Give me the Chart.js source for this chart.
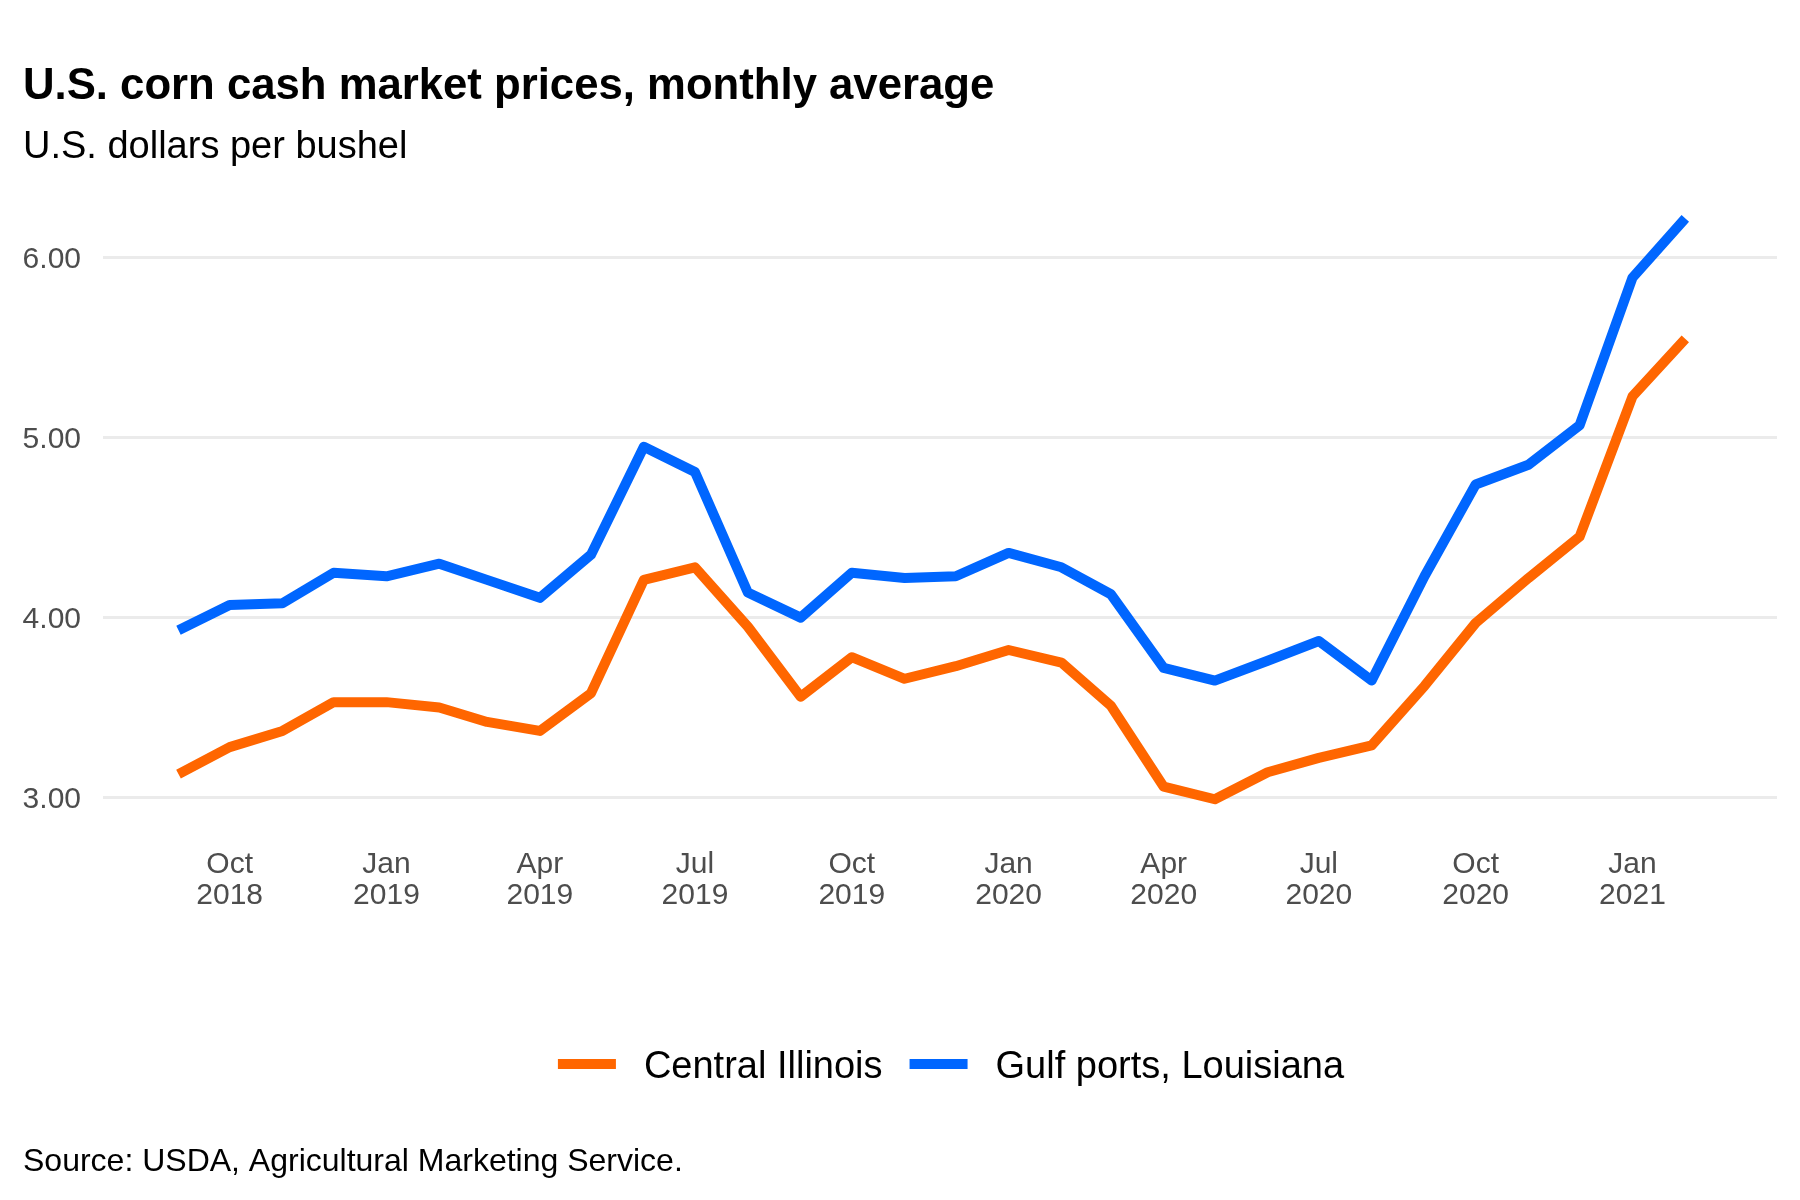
<!DOCTYPE html>
<html>
<head>
<meta charset="utf-8">
<script src="https://cdn.jsdelivr.net/npm/chart.js@4.4.1/dist/chart.umd.min.js"></script>
<style>
  html, body { margin: 0; padding: 0; background: #ffffff; }
  #wrap { width: 1800px; height: 1200px; position: relative; }
  canvas { display: block; }
</style>
</head>
<body>
<div id="wrap"><canvas id="chart" width="1800" height="1200"></canvas></div>
<script>
// ---- data ----
const months = [
  '2018-09','2018-10','2018-11','2018-12',
  '2019-01','2019-02','2019-03','2019-04','2019-05','2019-06','2019-07','2019-08','2019-09','2019-10','2019-11','2019-12',
  '2020-01','2020-02','2020-03','2020-04','2020-05','2020-06','2020-07','2020-08','2020-09','2020-10','2020-11','2020-12',
  '2021-01','2021-02'
];
const centralIllinois = [
  3.13, 3.28, 3.37, 3.53,
  3.53, 3.50, 3.42, 3.37, 3.58, 4.21, 4.28, 3.95, 3.56, 3.78, 3.66, 3.73,
  3.82, 3.75, 3.51, 3.06, 2.99, 3.14, 3.22, 3.29, 3.62, 3.97, 4.22, 4.45,
  5.23, 5.55
];
const gulfPorts = [
  3.93, 4.07, 4.08, 4.25,
  4.23, 4.30, 4.21, 4.11, 4.35, 4.95, 4.81, 4.14, 4.00, 4.25, 4.22, 4.23,
  4.36, 4.28, 4.13, 3.72, 3.65, 3.76, 3.87, 3.65, 4.23, 4.74, 4.85, 5.07,
  5.89, 6.22
];
const seriesNames = ['Central Illinois', 'Gulf ports, Louisiana'];
const seriesColors = ['#FF6600', '#0066FF'];
const xTickMonths = ['2018-10','2019-01','2019-04','2019-07','2019-10','2020-01','2020-04','2020-07','2020-10','2021-01'];
const monthNames = ['Jan','Feb','Mar','Apr','May','Jun','Jul','Aug','Sep','Oct','Nov','Dec'];
const yTicks = [3, 4, 5, 6];
const titleText = 'U.S. corn cash market prices, monthly average';
const subtitleText = 'U.S. dollars per bushel';
const sourceText = 'Source: USDA, Agricultural Marketing Service.';

const FONT = '"Liberation Sans", Arial, Helvetica, sans-serif';
const DAY = 86400000;
const ORIGIN = Date.UTC(2018, 8, 1);

// month string -> days since 2018-09-01 (time position on the linear axis)
function monthToDay(m) {
  const [yr, mo] = m.split('-').map(Number);
  return Math.round((Date.UTC(yr, mo - 1, 1) - ORIGIN) / DAY);
}
function dayToLabel(d) {
  const dt = new Date(ORIGIN + d * DAY);
  return [monthNames[dt.getUTCMonth()], String(dt.getUTCFullYear())];
}
function toPoints(vals) {
  return vals.map((v, i) => ({ x: monthToDay(months[i]), y: v }));
}

const textPlugin = {
  id: 'texts',
  beforeDraw(chart) {
    const ctx = chart.ctx;
    ctx.save();
    ctx.fillStyle = '#ffffff';
    ctx.fillRect(0, 0, chart.width, chart.height);
    ctx.restore();
  },
  afterDraw(chart) {
    const ctx = chart.ctx;
    ctx.save();
    ctx.fillStyle = '#000000';
    ctx.textAlign = 'left';
    ctx.textBaseline = 'alphabetic';
    ctx.font = 'bold 43.7px ' + FONT;
    ctx.fillText(titleText, 23, 99);
    ctx.font = '38px ' + FONT;
    ctx.fillText(subtitleText, 23, 158);
    ctx.font = '32px ' + FONT;
    ctx.fillText(sourceText, 23, 1171);

    // legend
    ctx.font = '38px ' + FONT;
    const sw = 58, gapAfterSwatch = 28, gapBetween = 27;
    const items = chart.data.datasets.map(ds => ({
      label: ds.label, color: ds.borderColor, w: ctx.measureText(ds.label).width
    }));
    let total = 0;
    items.forEach((it, i) => {
      total += sw + gapAfterSwatch + it.w + (i < items.length - 1 ? gapBetween : 0);
    });
    let x = 951 - total / 2;
    const cy = 1064;
    items.forEach((it) => {
      ctx.fillStyle = it.color;
      ctx.fillRect(x, cy - 5, sw, 10);
      x += sw + gapAfterSwatch;
      ctx.fillStyle = '#000000';
      ctx.fillText(it.label, x, 1078);
      x += it.w + gapBetween;
    });
    ctx.restore();
  }
};

function lineDataset(i, vals) {
  return {
    label: seriesNames[i],
    data: toPoints(vals),
    borderColor: seriesColors[i],
    backgroundColor: seriesColors[i],
    borderWidth: 10,
    pointRadius: 0,
    tension: 0,
    borderCapStyle: 'butt',
    borderJoinStyle: 'round',
    fill: false
  };
}

const ctx = document.getElementById('chart').getContext('2d');
new Chart(ctx, {
  type: 'line',
  data: {
    datasets: [lineDataset(0, centralIllinois), lineDataset(1, gulfPorts)]
  },
  options: {
    responsive: false,
    devicePixelRatio: 1,
    animation: false,
    layout: { padding: { left: 0, right: 23, top: 190, bottom: 280 } },
    plugins: {
      legend: { display: false },
      title: { display: false },
      tooltip: { enabled: false }
    },
    scales: {
      x: {
        type: 'linear',
        min: -44.3,
        max: 937.8,
        border: { display: false },
        grid: { display: false, drawTicks: false },
        afterBuildTicks(scale) {
          scale.ticks = xTickMonths.map(m => ({ value: monthToDay(m) }));
        },
        afterFit(scale) { scale.height = 90; },
        ticks: {
          autoSkip: false,
          maxRotation: 0,
          padding: 19,
          color: '#4d4d4d',
          font: { family: FONT, size: 30, lineHeight: 1.04 },
          callback(value) { return dayToLabel(value); }
        }
      },
      y: {
        type: 'linear',
        min: 2.819,
        max: 6.378,
        border: { display: false },
        grid: { color: '#ebebeb', lineWidth: 3, drawTicks: false },
        afterBuildTicks(scale) {
          scale.ticks = yTicks.map(v => ({ value: v }));
        },
        afterFit(scale) { scale.width = 103; },
        ticks: {
          padding: 22,
          labelOffset: 2,
          color: '#4d4d4d',
          font: { family: FONT, size: 30 },
          callback(value) { return Number(value).toFixed(2); }
        }
      }
    }
  },
  plugins: [textPlugin]
});
</script>
</body>
</html>
